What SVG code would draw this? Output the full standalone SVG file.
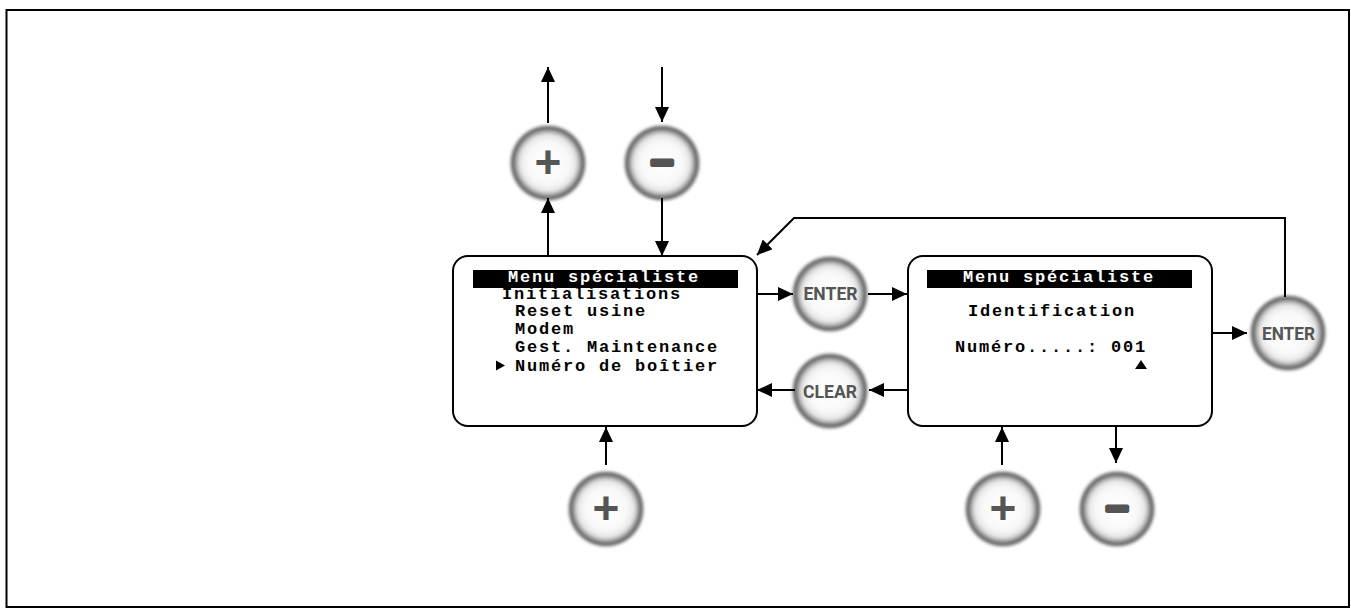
<svg xmlns="http://www.w3.org/2000/svg" xmlns:xlink="http://www.w3.org/1999/xlink" width="1351" height="610" viewBox="0 0 1351 610">
<style>
.frame{fill:none;stroke:#000;stroke-width:2}
.box{fill:#fff;stroke:#000;stroke-width:2}
.bar{fill:#000}
.scr{font-family:"Liberation Mono","DejaVu Sans Mono",monospace;font-weight:bold;font-size:17px;letter-spacing:1.8px;fill:#000}
.hdr{fill:#fff}
.conn{fill:none;stroke:#000;stroke-width:2}
.lbl{font-family:Roboto,"Liberation Sans",sans-serif;font-weight:bold;font-size:18px;fill:#555;text-anchor:middle}
.sym{font-family:"Liberation Sans",Arial,sans-serif;font-weight:bold;fill:#555;text-anchor:middle}
</style>
<defs>
<radialGradient id="face" cx="0.5" cy="0.5" r="0.5">
<stop offset="0" stop-color="#ffffff"/>
<stop offset="0.55" stop-color="#f8f8f8"/>
<stop offset="0.72" stop-color="#e6e6e6"/>
<stop offset="0.82" stop-color="#a4a4a4"/>
<stop offset="0.89" stop-color="#5e5e5e"/>
<stop offset="0.95" stop-color="#8c8c8c"/>
<stop offset="1" stop-color="#ffffff" stop-opacity="0"/>
</radialGradient>
<filter id="soft" x="-20%" y="-20%" width="140%" height="140%">
<feGaussianBlur stdDeviation="1.6"/>
</filter>
<marker id="ah" markerUnits="userSpaceOnUse" markerWidth="15" markerHeight="14" refX="15" refY="7" orient="auto">
<path d="M0,0 L15,7 L0,14 z" fill="#000"/>
</marker>
<circle id="btn" cx="0" cy="0" r="39" fill="url(#face)" filter="url(#soft)"/>
</defs>
<rect width="1351" height="610" fill="#fff"/>
<rect class="frame" x="6.5" y="10" width="1342.5" height="597"/>

<g id="screen1">
<rect class="box" x="453" y="256" width="304" height="170" rx="15"/>
<rect class="bar" x="473" y="270" width="265" height="18"/>
<text class="scr hdr" x="508" y="282">Menu spécialiste</text>
<text class="scr" x="502" y="299">Initialisations</text>
<text class="scr" x="515" y="316">Reset usine</text>
<text class="scr" x="515" y="334">Modem</text>
<text class="scr" x="515" y="352">Gest. Maintenance</text>
<polygon points="496,360.5 505,365.5 496,370.5" fill="#000"/>
<text class="scr" x="515" y="371">Numéro de boîtier</text>
</g>

<g id="screen2">
<rect class="box" x="908" y="256" width="304" height="170" rx="15"/>
<rect class="bar" x="927" y="270" width="265" height="18"/>
<text class="scr hdr" x="963" y="282">Menu spécialiste</text>
<text class="scr" x="968" y="316">Identification</text>
<text class="scr" x="955" y="352">Numéro.....: 001</text>
<polygon points="1141,360 1147,369 1135,369" fill="#000"/>
</g>

<g id="btn-plus-top">
<use xlink:href="#btn" x="548" y="163"/>
<text class="sym" x="548" y="178" font-size="46">+</text>
</g>
<g id="btn-minus-top">
<use xlink:href="#btn" x="662" y="163"/>
<text class="sym" x="662" y="176" font-size="40" stroke="#555" stroke-width="4" stroke-linejoin="round">−</text>
</g>
<g id="btn-enter1">
<use xlink:href="#btn" x="830" y="294"/>
<text class="lbl" x="830.5" y="300" textLength="54" lengthAdjust="spacingAndGlyphs">ENTER</text>
</g>
<g id="btn-clear">
<use xlink:href="#btn" x="830" y="391"/>
<text class="lbl" x="830" y="398" textLength="54" lengthAdjust="spacingAndGlyphs">CLEAR</text>
</g>
<g id="btn-enter2">
<use xlink:href="#btn" x="1288" y="333"/>
<text class="lbl" x="1288.5" y="340" textLength="53" lengthAdjust="spacingAndGlyphs">ENTER</text>
</g>
<g id="btn-plus-bottom1">
<use xlink:href="#btn" x="606" y="509"/>
<text class="sym" x="606" y="524" font-size="46">+</text>
</g>
<g id="btn-plus-bottom2">
<use xlink:href="#btn" x="1003" y="509"/>
<text class="sym" x="1003" y="524" font-size="46">+</text>
</g>
<g id="btn-minus-bottom">
<use xlink:href="#btn" x="1117" y="509"/>
<text class="sym" x="1117" y="522" font-size="40" stroke="#555" stroke-width="4" stroke-linejoin="round">−</text>
</g>

<g id="connectors">
<path class="conn" d="M548,256 V198" marker-end="url(#ah)"/>
<path class="conn" d="M548,123 V67" marker-end="url(#ah)"/>
<path class="conn" d="M662,67 V122" marker-end="url(#ah)"/>
<path class="conn" d="M662,198 V256" marker-end="url(#ah)"/>
<path class="conn" d="M757,294 H793" marker-end="url(#ah)"/>
<path class="conn" d="M868,294 H907" marker-end="url(#ah)"/>
<path class="conn" d="M908,390 H869" marker-end="url(#ah)"/>
<path class="conn" d="M795,390 H757" marker-end="url(#ah)"/>
<path class="conn" d="M1212,333 H1247" marker-end="url(#ah)"/>
<path class="conn" d="M1285,297 V218 H794 L757,255" marker-end="url(#ah)"/>
<path class="conn" d="M606,465 V427" marker-end="url(#ah)"/>
<path class="conn" d="M1002,465 V427" marker-end="url(#ah)"/>
<path class="conn" d="M1116,426 V463" marker-end="url(#ah)"/>
</g>
</svg>
